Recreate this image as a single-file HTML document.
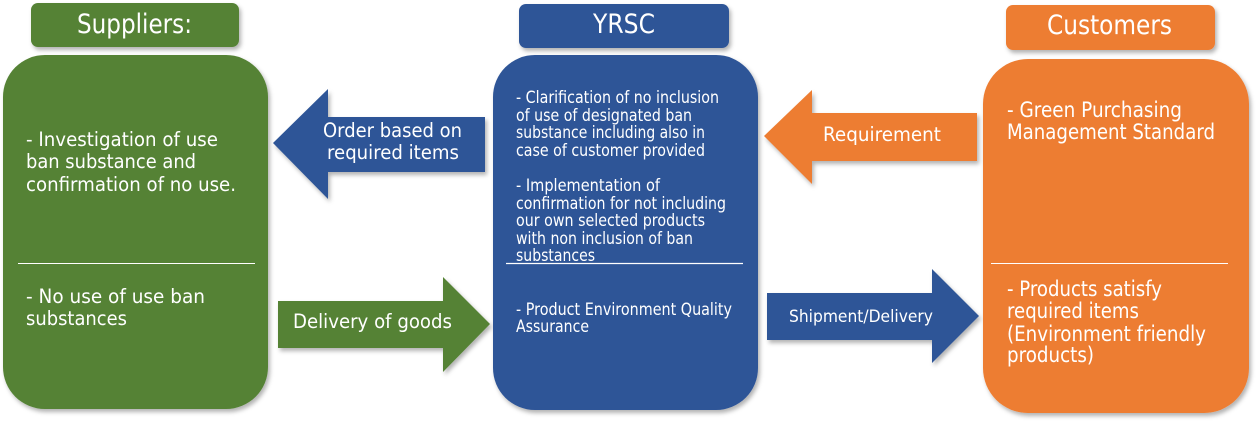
<!DOCTYPE html>
<html><head><meta charset="utf-8"><style>
html,body{margin:0;padding:0;background:#fff;width:1258px;height:422px;overflow:hidden}
svg{display:block}
text{font-family:"DejaVu Sans","Liberation Sans",sans-serif;fill:#fff}
</style></head><body>
<svg width="1258" height="422" viewBox="0 0 1258 422" xmlns="http://www.w3.org/2000/svg">
<defs>
<filter id="sh" x="-10%" y="-10%" width="130%" height="130%">
<feDropShadow dx="2" dy="3" stdDeviation="2" flood-color="#000" flood-opacity="0.3"/>
</filter>
</defs>
<g filter="url(#sh)">
<rect x="31" y="3" width="208" height="44" rx="7" fill="#548235"/>
<rect x="3" y="55" width="265" height="354" rx="42" fill="#548235"/>
<rect x="519" y="4" width="210" height="44" rx="7" fill="#2F5597"/>
<rect x="493" y="55" width="265" height="355" rx="42" fill="#2F5597"/>
<rect x="1006" y="5" width="209" height="45" rx="7" fill="#ED7D31"/>
<rect x="983" y="59" width="266" height="354" rx="45" fill="#ED7D31"/>
<polygon points="273,143 328,89 328,117 485,117 485,172 328,172 328,199" fill="#2F5597"/>
<polygon points="278,301 443,301 443,277 490,324 443,372 443,348 278,348" fill="#548235"/>
<polygon points="764,136 812,90 812,113 977,113 977,161 812,161 812,184" fill="#ED7D31"/>
<polygon points="767,293 932,293 932,269 979,316 932,363 932,340 767,340" fill="#2F5597"/>
</g>
<line x1="18" y1="263.5" x2="255" y2="263.5" stroke="#fff" stroke-width="1"/>
<line x1="506" y1="263.5" x2="743" y2="263.5" stroke="#fff" stroke-width="1.2"/>
<line x1="991" y1="263.5" x2="1228" y2="263.5" stroke="#fff" stroke-width="1"/>

<text x="77" y="33" font-size="27" textLength="115" lengthAdjust="spacingAndGlyphs">Suppliers:</text>
<text x="593" y="33" font-size="27" textLength="62" lengthAdjust="spacingAndGlyphs">YRSC</text>
<text x="1047" y="34" font-size="27" textLength="125" lengthAdjust="spacingAndGlyphs">Customers</text>

<g font-size="19.5">
<text x="26" y="146" textLength="192" lengthAdjust="spacingAndGlyphs">- Investigation of use</text>
<text x="26" y="168" textLength="170" lengthAdjust="spacingAndGlyphs">ban substance and</text>
<text x="26" y="191" textLength="210" lengthAdjust="spacingAndGlyphs">confirmation of no use.</text>
<text x="26" y="303" textLength="179" lengthAdjust="spacingAndGlyphs">- No use of use ban</text>
<text x="26" y="325" textLength="101" lengthAdjust="spacingAndGlyphs">substances</text>
</g>
<g font-size="19.5">
<text x="323" y="137" textLength="139" lengthAdjust="spacingAndGlyphs">Order based on</text>
<text x="327" y="159" textLength="132" lengthAdjust="spacingAndGlyphs">required items</text>
<text x="293" y="328" textLength="159" lengthAdjust="spacingAndGlyphs">Delivery of goods</text>
<text x="823" y="141" textLength="118" lengthAdjust="spacingAndGlyphs">Requirement</text>
</g>
<text x="789" y="322" font-size="16.5" textLength="144" lengthAdjust="spacingAndGlyphs">Shipment/Delivery</text>

<g font-size="16.5">
<text x="516" y="103" textLength="203" lengthAdjust="spacingAndGlyphs">- Clarification of no inclusion</text>
<text x="516" y="121" textLength="176" lengthAdjust="spacingAndGlyphs">of use of designated ban</text>
<text x="516" y="138" textLength="189" lengthAdjust="spacingAndGlyphs">substance including also in</text>
<text x="516" y="156" textLength="189" lengthAdjust="spacingAndGlyphs">case of customer provided</text>
<text x="516" y="191" textLength="144" lengthAdjust="spacingAndGlyphs">- Implementation of</text>
<text x="516" y="209" textLength="210" lengthAdjust="spacingAndGlyphs">confirmation for not including</text>
<text x="516" y="226" textLength="189" lengthAdjust="spacingAndGlyphs">our own selected products</text>
<text x="516" y="244" textLength="177" lengthAdjust="spacingAndGlyphs">with non inclusion of ban</text>
<text x="516" y="261" textLength="79" lengthAdjust="spacingAndGlyphs">substances</text>
<text x="516" y="315" textLength="216" lengthAdjust="spacingAndGlyphs">- Product Environment Quality</text>
<text x="516" y="332" textLength="73" lengthAdjust="spacingAndGlyphs">Assurance</text>
</g>

<g font-size="21">
<text x="1007" y="117" textLength="175" lengthAdjust="spacingAndGlyphs">- Green Purchasing</text>
<text x="1007" y="139" textLength="208" lengthAdjust="spacingAndGlyphs">Management Standard</text>
<text x="1007" y="296" textLength="155" lengthAdjust="spacingAndGlyphs">- Products satisfy</text>
<text x="1007" y="318" textLength="132" lengthAdjust="spacingAndGlyphs">required items</text>
<text x="1007" y="341" textLength="199" lengthAdjust="spacingAndGlyphs">(Environment friendly</text>
<text x="1007" y="362" textLength="87" lengthAdjust="spacingAndGlyphs">products)</text>
</g>
</svg>
</body></html>
